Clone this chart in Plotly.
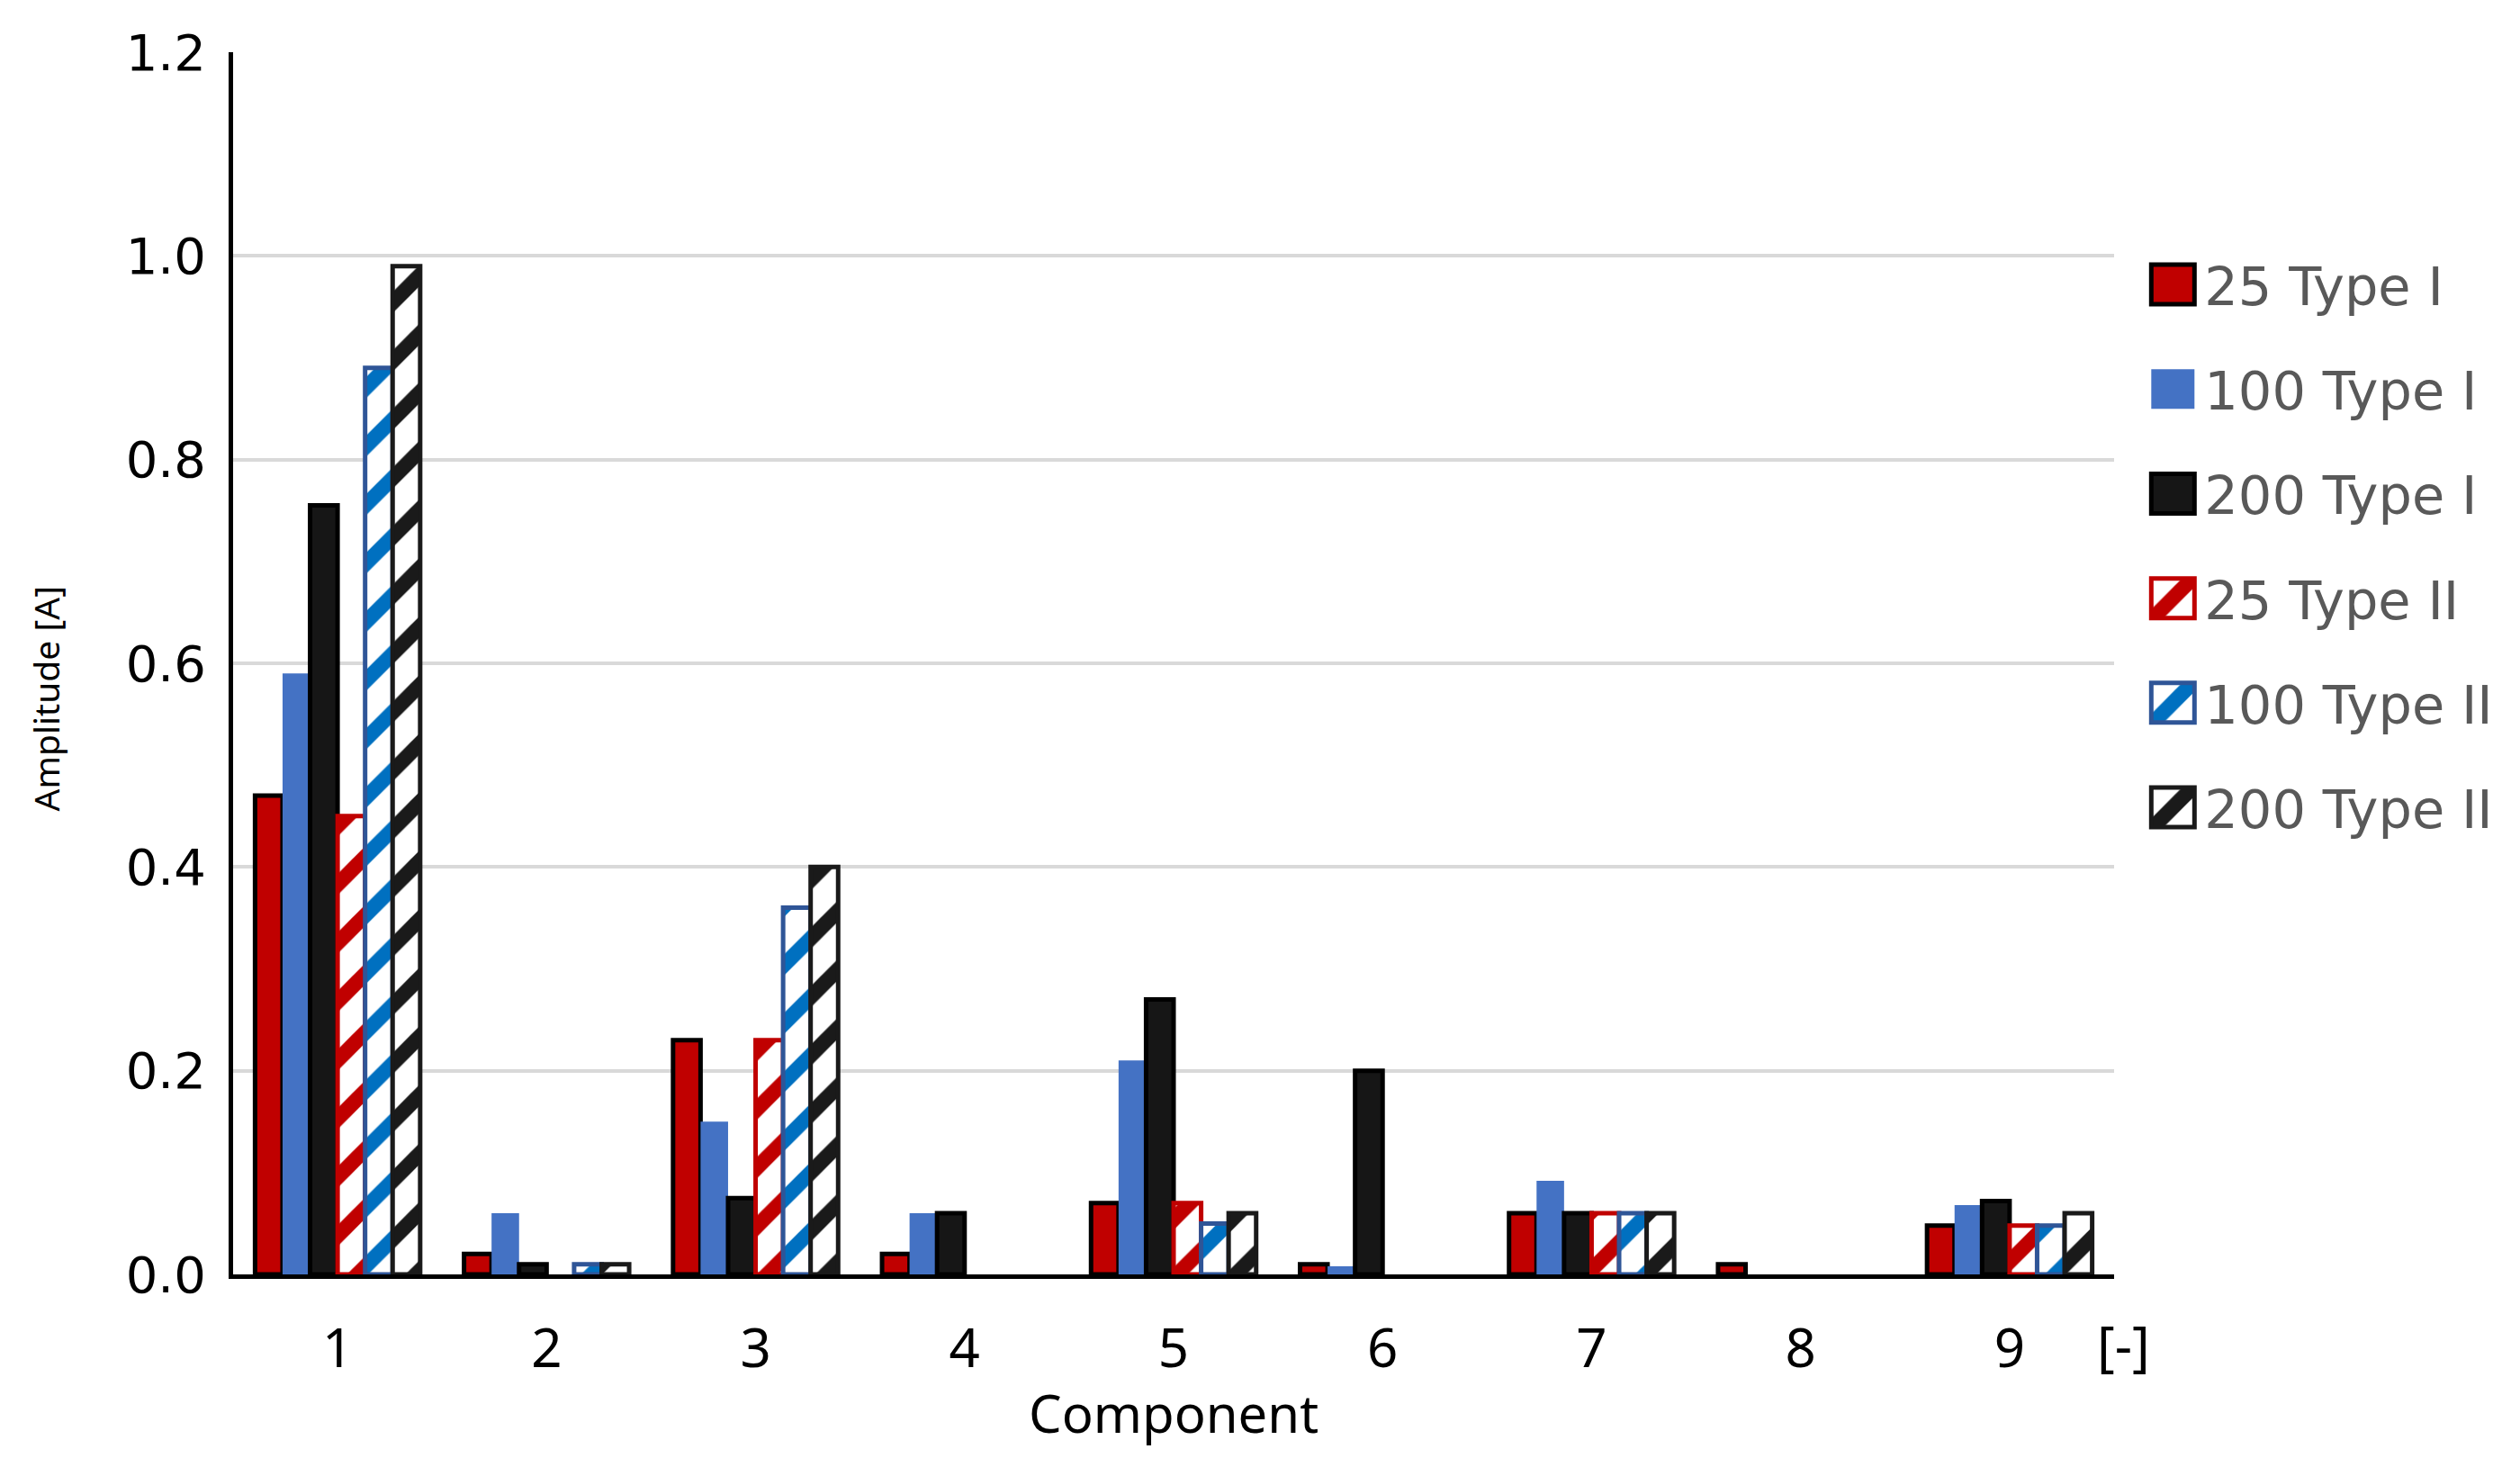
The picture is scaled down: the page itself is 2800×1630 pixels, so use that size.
import plotly.graph_objects as go

components = ["1", "2", "3", "4", "5", "6", "7", "8", "9"]
y_ticks = [0.0, 0.2, 0.4, 0.6, 0.8, 1.0, 1.2]

# None = no bar drawn for that component
amp_25_type1 = [0.47, 0.02, 0.23, 0.02, 0.07, 0.01, 0.06, 0.01, 0.048]
amp_100_type1 = [0.59, 0.06, 0.15, 0.06, 0.21, 0.008, 0.092, None, 0.068]
amp_200_type1 = [0.755, 0.01, 0.075, 0.06, 0.27, 0.20, 0.06, None, 0.072]
amp_25_type2 = [0.45, None, 0.23, None, 0.07, None, 0.06, None, 0.048]
amp_100_type2 = [0.89, 0.01, 0.36, None, 0.05, None, 0.06, None, 0.048]
amp_200_type2 = [0.99, 0.01, 0.40, None, 0.06, None, 0.06, None, 0.06]

series_names = ["25 Type I", "100 Type I", "200 Type I",
                "25 Type II", "100 Type II", "200 Type II"]

RED = "#C00000"
BLUE = "#4472C4"
BLACK = "#161616"

fig = go.Figure()

solid_specs = [
    (series_names[0], amp_25_type1, RED, "#000000", 5),
    (series_names[1], amp_100_type1, BLUE, BLUE, 0),
    (series_names[2], amp_200_type1, BLACK, "#000000", 5),
]
for name, vals, col, lcol, lw in solid_specs:
    fig.add_trace(go.Bar(
        x=components, y=vals, name=name, legendgroup=name,
        marker=dict(color=col, line=dict(color=lcol, width=lw)),
    ))

hatch_specs = [
    (series_names[3], amp_25_type2, RED, RED),
    (series_names[4], amp_100_type2, "#0070C0", "#2F5597"),
    (series_names[5], amp_200_type2, "#1A1A1A", "#1A1A1A"),
]
for name, vals, fg, lcol in hatch_specs:
    fig.add_trace(go.Bar(
        x=components, y=vals, name=name, legendgroup=name,
        marker=dict(color="white", line=dict(color=lcol, width=5),
                    pattern=dict(shape="/", fgcolor=fg, bgcolor="white",
                                 fillmode="replace", size=46, solidity=0.36)),
    ))

fig.update_layout(
    width=2800, height=1630,
    margin=dict(l=259, r=451, t=58, b=214),
    paper_bgcolor="white", plot_bgcolor="white",
    barmode="group", bargap=0.21, bargroupgap=0.0,
    showlegend=True,
    legend=dict(
        x=1.0145, xanchor="left", y=0.843, yanchor="top",
        font=dict(family="DejaVu Sans", size=59, color="#595959"),
        tracegroupgap=36.5, itemwidth=60, bgcolor="rgba(0,0,0,0)",
    ),
    xaxis=dict(
        type="category", showline=True, linecolor="#000000", linewidth=5,
        showgrid=False, ticks="outside", ticklen=26, tickcolor="rgba(0,0,0,0)",
        tickfont=dict(family="Noto Sans", size=60, color="#000000"),
        zeroline=False,
    ),
    yaxis=dict(
        range=[0, 1.2], tickvals=y_ticks, tickformat=".1f",
        showline=True, linecolor="#000000", linewidth=5,
        showgrid=True, gridcolor="#D9D9D9", gridwidth=3.5,
        ticks="outside", ticklen=14, tickcolor="rgba(0,0,0,0)",
        tickfont=dict(family="DejaVu Sans", size=56, color="#000000"),
        zeroline=False,
    ),
    annotations=[
        dict(text="Component", xref="paper", yref="paper", x=0.5, y=-0.1134,
             xanchor="center", yanchor="middle", showarrow=False,
             font=dict(family="Noto Sans", size=58, color="#000000")),
        dict(text="[-]", xref="paper", yref="paper", x=1.005, y=-0.0576,
             xanchor="center", yanchor="middle", showarrow=False,
             font=dict(family="Noto Sans", size=60, color="#000000")),
        dict(text="Amplitude [A]", xref="paper", yref="paper", x=-0.1, y=0.471,
             xanchor="center", yanchor="middle", showarrow=False, textangle=-90,
             font=dict(family="Noto Sans", size=39, color="#000000")),
    ],
)

post = """
document.body.style.margin = '0';
var gd = document.getElementById('{plot_id}');
function fixLegend(){
  var barTraces = gd.querySelectorAll('.barlayer .trace');
  var fills = [];
  barTraces.forEach(function(t){
    var p = t.querySelector('.point path');
    fills.push(p ? p.style.fill : null);
  });
  var items = gd.querySelectorAll('.legend .traces');
  items.forEach(function(it, i){
    var p = it.querySelector('.legendpoints path');
    if (!p) return;
    p.setAttribute('d', 'M24,22H-24V-22H24Z');
    var sw = parseFloat(p.style.strokeWidth || '0');
    if (sw > 0) { p.style.strokeWidth = '5px'; }
    if (fills[i] && fills[i].indexOf('url') >= 0) { p.style.fill = fills[i]; }
  });
}
fixLegend();
gd.on('plotly_afterplot', fixLegend);
setTimeout(fixLegend, 50);
"""

fig.write_html("out.html", post_script=post, config={"displayModeBar": False})
